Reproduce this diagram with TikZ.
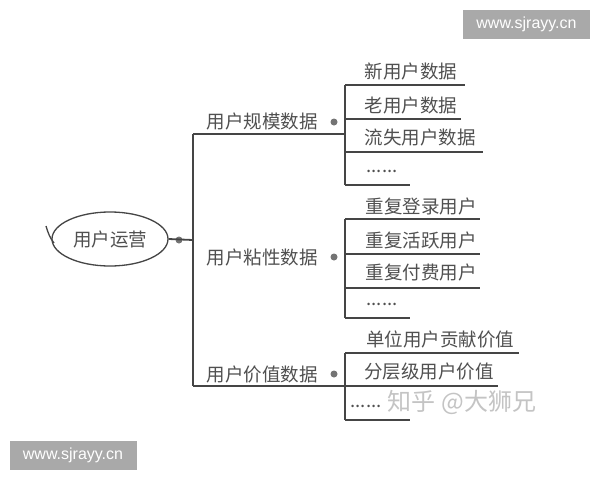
\documentclass[tikz,border=0pt]{standalone}
\usepackage{fontspec}
\usetikzlibrary{shapes.geometric}
\newfontfamily\cjk{Noto Sans CJK SC}
\newfontfamily\wmfont{Liberation Sans}
\definecolor{linegray}{HTML}{454545}
\definecolor{textgray}{HTML}{505050}
\definecolor{boxgray}{HTML}{A9A9A9}
\definecolor{wmgray}{HTML}{C4C4C4}
\begin{document}
\begin{tikzpicture}[x=1pt,y=-1pt,
  conn/.style={draw=linegray, line width=1.8pt},
  txt/.style={text=textgray, font=\cjk\fontsize{18.5}{18.5}\selectfont, inner sep=0pt},
  knob/.style={circle, fill=linegray!75, inner sep=0pt, minimum size=7pt},
  wmbox/.style={fill=boxgray, text=white, font=\wmfont\fontsize{16}{16}\selectfont, minimum width=127pt, minimum height=29pt, inner sep=0pt}
]
\useasboundingbox (0,0) rectangle (600,480);
\fill[white] (0,0) rectangle (600,480);

% root
\node[draw=linegray, line width=1.3pt, ellipse, minimum width=116pt, minimum height=54pt, txt] (root) at (110,239) {用户运营};
\draw[linegray, line width=1.3pt] (46,226) .. controls (48,233) and (50,238) .. (54,243);
\node[knob] (rk) at (179,240) {};
\coordinate (tjoin) at (193,240);
\draw[conn] (root.east) -- (tjoin);

% trunk
\coordinate (ttop) at (193,134);
\coordinate (tbot) at (193,386);
\draw[conn] (ttop) -- (tbot);

% branch labels
\node[txt] (b1) at (262,121) {用户规模数据};
\node[txt] (b2) at (262,257) {用户粘性数据};
\node[txt] (b3) at (262,374) {用户价值数据};
\node[knob] (k1) at (334,122) {};
\node[knob] (k2) at (334,257) {};
\node[knob] (k3) at (334,374) {};

% group 1
\coordinate (g1a) at (345,85);
\coordinate (g1b) at (345,119);
\coordinate (g1c) at (345,152);
\coordinate (g1d) at (345,185);
\coordinate (g1m) at (345,134);
\draw[conn] (ttop) -- (g1m);
\draw[conn] (g1a) -- (g1d);
\node[txt] (c11) at (411,71) {新用户数据};
\node[txt] (c12) at (411,105) {老用户数据};
\node[txt] (c13) at (420,137) {流失用户数据};
\node[txt] (c14) at (382,171) {......};
\draw[conn] (g1a) -- (465,85);
\draw[conn] (g1b) -- (461,119);
\draw[conn] (g1c) -- (483,152);
\draw[conn] (g1d) -- (410,185);

% group 2
\coordinate (g2a) at (345,219);
\coordinate (g2b) at (345,254);
\coordinate (g2c) at (345,288);
\coordinate (g2d) at (345,318);
\draw[conn] (g2a) -- (g2d);
\node[txt] (c21) at (421,206) {重复登录用户};
\node[txt] (c22) at (421,240) {重复活跃用户};
\node[txt] (c23) at (421,272) {重复付费用户};
\node[txt] (c24) at (382,304) {......};
\draw[conn] (g2a) -- (480,219);
\draw[conn] (g2b) -- (480,254);
\draw[conn] (g2c) -- (480,288);
\draw[conn] (g2d) -- (410,318);

% group 3
\coordinate (g3a) at (345,353);
\coordinate (g3b) at (345,386);
\coordinate (g3c) at (345,420);
\draw[conn] (tbot) -- (g3b);
\draw[conn] (g3a) -- (g3c);
\node[txt] (c31) at (440,339) {单位用户贡献价值};
\node[txt] (c32) at (429,372) {分层级用户价值};
\node[txt] (c33) at (366,406) {......};
\draw[conn] (g3a) -- (519,353);
\draw[conn] (g3b) -- (498,386);
\draw[conn] (g3c) -- (410,420);

% watermarks
\node[text=wmgray, font=\cjk\fontsize{24}{24}\selectfont, inner sep=0pt] (zh) at (462,402) {知乎 @大狮兄};
\node[wmbox] (w1) at (526.5,24.5) {www.sjrayy.cn};
\node[wmbox] (w2) at (73,455) {www.sjrayy.cn};
\end{tikzpicture}
\end{document}
